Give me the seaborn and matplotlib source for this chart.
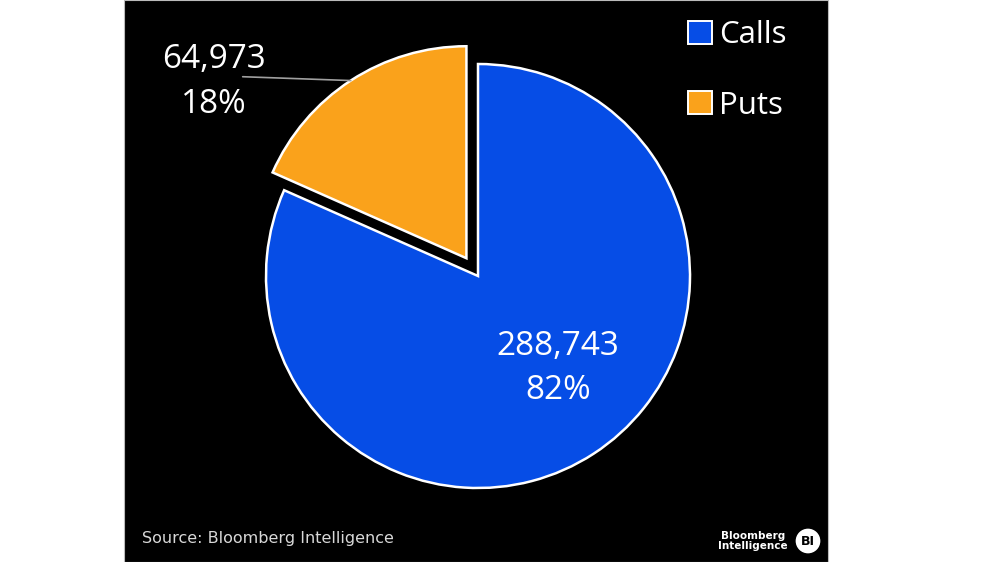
import matplotlib
matplotlib.use("Agg")
import matplotlib.pyplot as plt
import seaborn as sns
import numpy as np
from matplotlib.patches import Rectangle, Patch, Circle

sns.set_theme(style="white")
plt.rcParams['font.family'] = ['Open Sans', 'DejaVu Sans']

categories = ["Calls", "Puts"]
values = [288743, 64973]
colors = ["#064DE6", "#FAA21B"]
explode = [0.0, 0.1]

W, H = 1000, 562
fig = plt.figure(figsize=(W / 100, H / 100), dpi=100, facecolor="white")

# black panel
fig.patches.append(Rectangle((124 / W, 0), (828 - 124) / W, 1, transform=fig.transFigure,
                             facecolor="black", edgecolor="#BBBBBB", linewidth=0.8, zorder=-5))

ax = fig.add_axes([125 / W, 0, (828 - 125) / W, 1])
ax.set_facecolor("none")
wedges, _ = ax.pie(values, colors=colors, startangle=90, counterclock=False, explode=explode,
                   wedgeprops=dict(edgecolor="white", linewidth=1.8))
R = 212.0
cx, cy = 478.0, 276.0
ax.set_aspect("auto")
ax.set_xlim((125 - cx) / R, (828 - cx) / R)
ax.set_ylim(-(H - cy) / R, cy / R)
ax.axis("off")

total = sum(values)
# Calls label inside
ax.text(0.377, -0.435, f"{values[0]:,}\n{values[0] / total:.0%}", ha="center", va="center",
        color="white", fontsize=24, linespacing=1.45)

# Puts label outside with leader line
w = wedges[1]
mid = np.deg2rad((w.theta1 + w.theta2) / 2)
wc = w.center
end = (wc[0] + np.cos(mid), wc[1] + np.sin(mid))
ax.text(-1.245, 0.915, f"{values[1]:,}\n{values[1] / total:.0%}", ha="center", va="center",
        color="white", fontsize=24, linespacing=1.45)
ax.plot([-1.11, end[0]], [0.94, end[1]], color="#A0A0A0", linewidth=1.2)

# legend
handles = [Patch(facecolor=c, edgecolor="white", linewidth=1.4) for c in colors]
leg = fig.legend(handles, categories, loc="upper left", bbox_to_anchor=(660 / W, 1 + 8 / H),
                 frameon=False, fontsize=22.5, handlelength=0.75, handleheight=0.75,
                 handletextpad=0.25, labelspacing=1.3)
for t in leg.get_texts():
    t.set_color("white")

# source
fig.text(142 / W, 1 - 539 / H, "Source: Bloomberg Intelligence", color="#D8D8D8",
         fontsize=11.5, family="DejaVu Sans", va="center", ha="left")

# Bloomberg Intelligence logo
fig.text(753 / W, 1 - 541 / H, "Bloomberg\nIntelligence", color="white", fontsize=7.5,
         family="DejaVu Sans", va="center", ha="center", linespacing=1.1, fontweight="bold")
logo_ax = fig.add_axes([(808 - 13) / W, 1 - (541 + 13) / H, 26 / W, 26 / H])
logo_ax.set_xlim(-1, 1)
logo_ax.set_ylim(-1, 1)
logo_ax.add_patch(Circle((0, 0), 0.95, facecolor="white", edgecolor="none"))
logo_ax.text(0, -0.02, "BI", ha="center", va="center", color="black", fontsize=9,
             fontweight="bold", family="DejaVu Sans")
logo_ax.axis("off")

fig.savefig("out.png", dpi=100, facecolor="white")
